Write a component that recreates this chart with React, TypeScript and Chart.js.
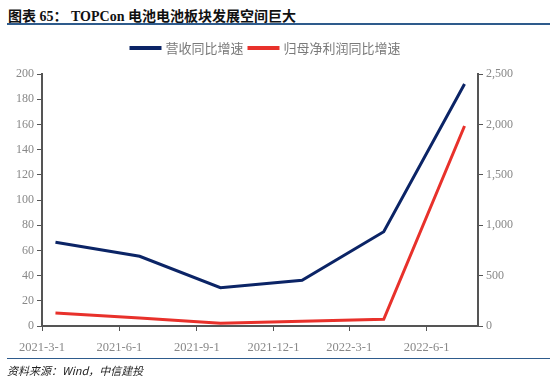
import React, { useEffect, useRef } from "react";
import { Chart, registerables } from "chart.js";

Chart.register(...registerables);

const pointDates = ["2021-03-17", "2021-06-25", "2021-09-29", "2022-01-04", "2022-04-11", "2022-07-16"];
const revenueGrowth = [66.5, 55.3, 30.4, 36.3, 74.8, 192];
const profitGrowth = [129, 80, 27, 47, 66, 1984];
const tickDates = ["2021-3-1", "2021-6-1", "2021-9-1", "2021-12-1", "2022-3-1", "2022-6-1"];
const axisStart = "2021-3-1";
const axisEnd = "2022-8-1";
const seriesNames = ["营收同比增速", "归母净利润同比增速"];
const seriesColors = ["#0b2466", "#e8312b"];

const dayNum = (s: string) => {
  const [y, m, d] = s.split("-").map(Number);
  return Math.round(Date.UTC(y, m - 1, d) / 86400000);
};
const base = dayNum(axisStart);
const toX = (s: string) => dayNum(s) - base;
const tickValues = tickDates.map(toX);
const tickLabelMap: Record<number, string> = {};
tickDates.forEach((t) => (tickLabelMap[toX(t)] = t));

const serif = "'Liberation Serif', 'Noto Sans CJK SC', serif";

const legendPlugin = {
  id: "customLegend",
  afterDraw(chart: any) {
    const ctx = chart.ctx;
    const font = "13px 'Noto Sans CJK SC', sans-serif";
    ctx.save();
    ctx.font = font;
    const lineW = 32;
    const gapLT = 4;
    const gapItem = 4;
    const items = chart.data.datasets.map((ds: any) => ({
      label: ds.label,
      color: ds.borderColor,
      w: lineW + gapLT + ctx.measureText(ds.label).width,
    }));
    const total = items.reduce((a: number, it: any) => a + it.w, 0) + gapItem * (items.length - 1);
    let x = chart.width / 2 - 10 - total / 2;
    const y = 48;
    items.forEach((it: any) => {
      ctx.strokeStyle = it.color;
      ctx.lineWidth = 4;
      ctx.beginPath();
      ctx.moveTo(x, y);
      ctx.lineTo(x + lineW, y);
      ctx.stroke();
      ctx.fillStyle = "#7a7a7a";
      ctx.textBaseline = "middle";
      ctx.textAlign = "left";
      ctx.fillText(it.label, x + lineW + gapLT, y);
      x += it.w + gapItem;
    });
    ctx.restore();
  },
};

export default function App() {
  const ref = useRef<HTMLCanvasElement>(null);
  useEffect(() => {
    document.body.style.margin = "0";
    const ctx = ref.current!;
    const chart = new Chart(ctx, {
      type: "line",
      data: {
        datasets: [
          {
            label: seriesNames[0],
            data: pointDates.map((d, i) => ({ x: toX(d), y: revenueGrowth[i] })),
            borderColor: seriesColors[0],
            backgroundColor: seriesColors[0],
            borderWidth: 3,
            pointRadius: 0,
            tension: 0,
            yAxisID: "y",
          },
          {
            label: seriesNames[1],
            data: pointDates.map((d, i) => ({ x: toX(d), y: profitGrowth[i] })),
            borderColor: seriesColors[1],
            backgroundColor: seriesColors[1],
            borderWidth: 3,
            pointRadius: 0,
            tension: 0,
            yAxisID: "y1",
          },
        ],
      },
      plugins: [legendPlugin],
      options: {
        animation: false,
        responsive: false,
        layout: { padding: { top: 74, bottom: 28, left: 0, right: 0 } },
        plugins: {
          tooltip: { enabled: false },
          legend: { display: false },
        },
        scales: {
          x: {
            type: "linear",
            min: 0,
            max: toX(axisEnd),
            afterBuildTicks: (scale: any) => {
              scale.ticks = tickValues.map((v) => ({ value: v }));
            },
            afterFit: (scale: any) => {
              scale.height = 30;
            },
            ticks: {
              autoSkip: false,
              maxRotation: 0,
              padding: 9,
              color: "#888",
              font: { size: 12.5, family: serif },
              callback: (v: any) => tickLabelMap[v] ?? "",
            },
            grid: { display: true, drawOnChartArea: false, drawTicks: true, tickLength: 5, color: "#555" },
            border: { color: "#555", width: 2 },
          },
          y: {
            position: "left",
            min: 0,
            max: 200,
            afterFit: (scale: any) => {
              scale.width = 42;
            },
            ticks: { stepSize: 20, color: "#888", font: { size: 12, family: serif }, padding: 3 },
            grid: { display: true, drawOnChartArea: false, drawTicks: true, tickLength: 5, color: "#555" },
            border: { color: "#555", width: 2 },
          },
          y1: {
            position: "right",
            min: 0,
            max: 2500,
            afterFit: (scale: any) => {
              scale.width = 72;
            },
            ticks: {
              stepSize: 500,
              color: "#888",
              font: { size: 12, family: serif },
              padding: 3,
              callback: (v: any) => Number(v).toLocaleString("en-US"),
            },
            grid: { display: true, drawOnChartArea: false, drawTicks: true, tickLength: 5, color: "#555" },
            border: { color: "#555", width: 2 },
          },
        },
      },
    });
    return () => chart.destroy();
  }, []);

  return (
    <div style={{ position: "absolute", left: 0, top: 0, width: 550, height: 384, background: "#fff", overflow: "hidden" }}>
      <div
        style={{
          position: "absolute",
          left: 8,
          top: 5,
          fontFamily: "'Liberation Serif', 'Noto Sans CJK SC', serif",
          fontWeight: "bold",
          fontSize: 14,
          color: "#111",
          whiteSpace: "nowrap",
        }}
      >
        图表 65：&nbsp;TOPCon 电池电池板块发展空间巨大
      </div>
      <div style={{ position: "absolute", left: 7, right: 0, top: 23, height: 2, background: "#2e5b8c" }} />
      <canvas ref={ref} width={550} height={384} style={{ position: "absolute", left: 0, top: 0 }} />
      <div style={{ position: "absolute", left: 7, right: 0, top: 358, height: 1, background: "#2e5b8c" }} />
      <div
        style={{
          position: "absolute",
          left: 7,
          top: 362,
          fontFamily: "'Noto Sans CJK SC', serif",
          fontStyle: "italic",
          fontSize: 11,
          color: "#222",
          whiteSpace: "nowrap",
        }}
      >
        资料来源：Wind，中信建投
      </div>
    </div>
  );
}
